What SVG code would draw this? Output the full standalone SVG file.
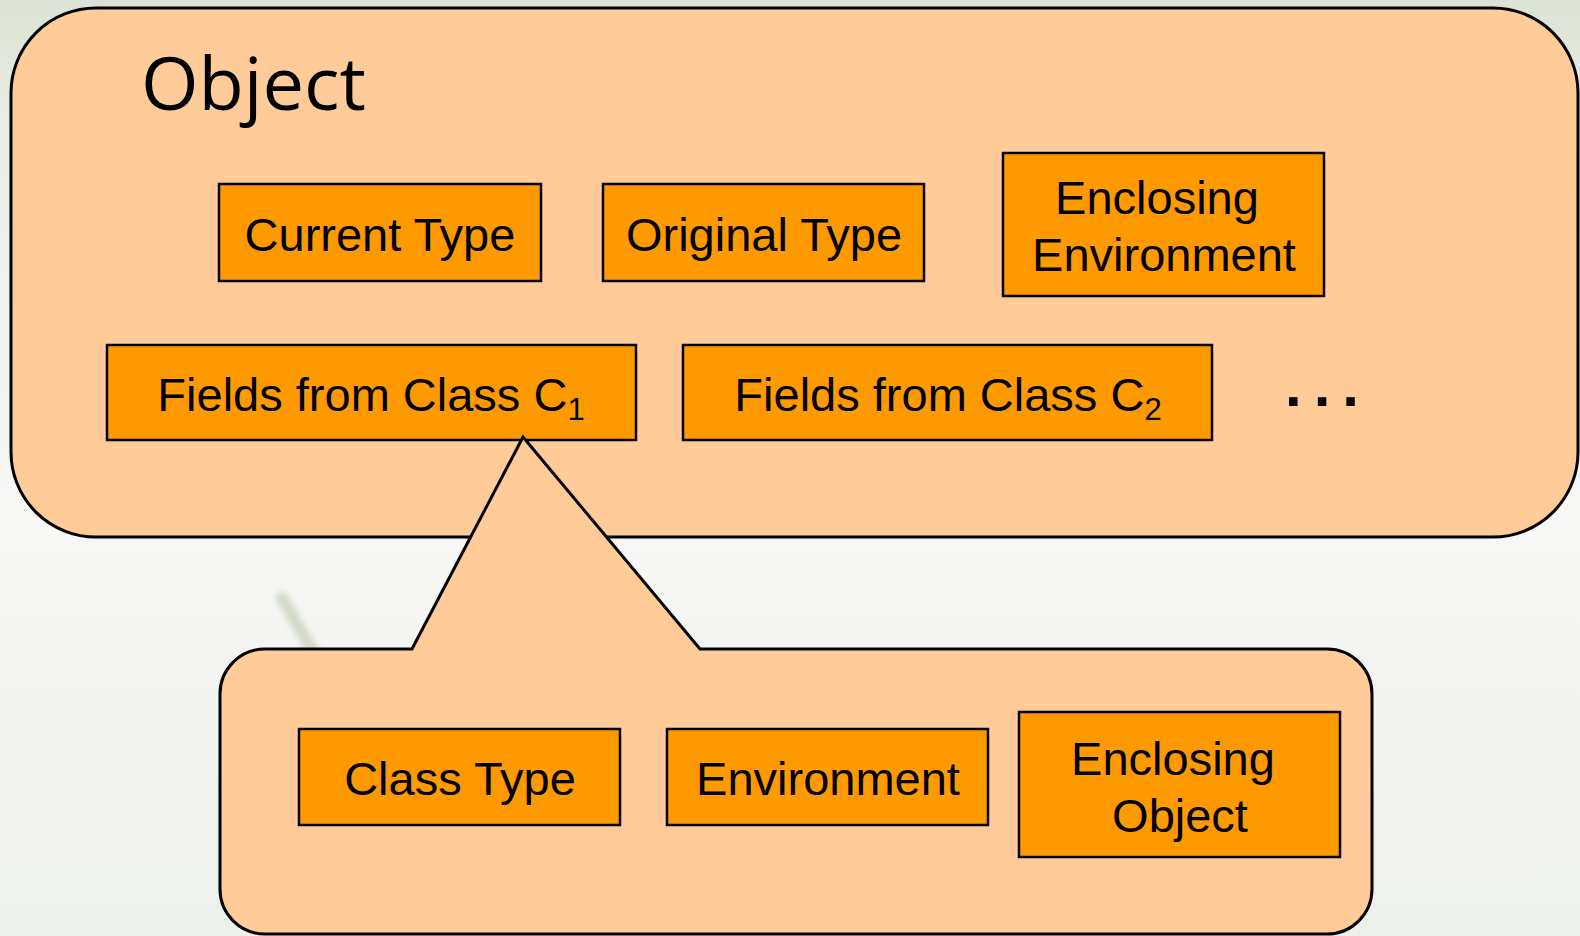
<svg xmlns="http://www.w3.org/2000/svg" width="1580" height="936" viewBox="0 0 1580 936">
  <defs>
    <linearGradient id="bg" x1="0" y1="0" x2="0" y2="1">
      <stop offset="0" stop-color="#DCE2D5"/>
      <stop offset="0.12" stop-color="#E8ECE4"/>
      <stop offset="0.55" stop-color="#F8F8F7"/>
      <stop offset="0.75" stop-color="#F3F4F1"/>
      <stop offset="1" stop-color="#EEF0EB"/>
    </linearGradient>
    <filter id="soft" x="-50%" y="-50%" width="200%" height="200%">
      <feGaussianBlur stdDeviation="3"/>
    </filter>
    <style>
      .panel { fill: #FFCC99; stroke: #000; stroke-width: 3; stroke-linejoin: miter; }
      .box { fill: #FF9900; stroke: #000; stroke-width: 2.5; }
      .lbl { font-family: "Liberation Sans", Arial, sans-serif; font-size: 47px; fill: #000; text-anchor: middle; }
      .sub { font-size: 31px; }
      .title { font-family: "Open Sans", "Noto Sans", sans-serif; font-size: 74px; fill: #000; }
      .dots { font-family: "Liberation Sans", Arial, sans-serif; font-size: 60px; font-weight: bold; letter-spacing: 12px; fill: #000; }
    </style>
  </defs>

  <!-- backdrop -->
  <rect x="0" y="0" width="1580" height="936" fill="url(#bg)"/>
  <line x1="282" y1="598" x2="320" y2="664" stroke="#D2D9C7" stroke-width="12" stroke-linecap="round" filter="url(#soft)"/>

  <!-- object panel -->
  <g id="object">
    <rect class="panel" x="11" y="8" width="1567" height="529" rx="85" ry="85"/>
    <text class="title" x="141" y="110">Object</text>
  </g>

  <g id="current-type">
    <rect class="box" x="219" y="184" width="322" height="97"/>
    <text class="lbl" x="380" y="251">Current Type</text>
  </g>

  <g id="original-type">
    <rect class="box" x="603" y="184" width="321" height="97"/>
    <text class="lbl" x="764" y="251">Original Type</text>
  </g>

  <g id="enclosing-environment">
    <rect class="box" x="1003" y="153" width="321" height="143"/>
    <text class="lbl" x="1157" y="214">Enclosing</text>
    <text class="lbl" x="1164" y="271">Environment</text>
  </g>

  <g id="fields-c1">
    <rect class="box" x="107" y="345" width="529" height="95"/>
    <text class="lbl" x="371" y="411">Fields from Class C<tspan class="sub" dy="9">1</tspan></text>
  </g>

  <g id="fields-c2">
    <rect class="box" x="683" y="345" width="529" height="95"/>
    <text class="lbl" x="948" y="411">Fields from Class C<tspan class="sub" dy="9">2</tspan></text>
  </g>

  <g id="more">
    <text class="dots" x="1285" y="406">...</text>
  </g>

  <!-- callout expanding the fields of class C1 -->
  <g id="connectors">
    <path class="panel" d="M 265 649 L 412 649 L 523 437 L 700 649 L 1327 649 A 45 45 0 0 1 1372 694 L 1372 889 A 45 45 0 0 1 1327 934 L 265 934 A 45 45 0 0 1 220 889 L 220 694 A 45 45 0 0 1 265 649 Z"/>
  </g>

  <g id="class-type">
    <rect class="box" x="299" y="729" width="321" height="96"/>
    <text class="lbl" x="460" y="795">Class Type</text>
  </g>

  <g id="environment">
    <rect class="box" x="667" y="729" width="321" height="96"/>
    <text class="lbl" x="828" y="795">Environment</text>
  </g>

  <g id="enclosing-object">
    <rect class="box" x="1019" y="712" width="321" height="145"/>
    <text class="lbl" x="1173" y="775">Enclosing</text>
    <text class="lbl" x="1180" y="832">Object</text>
  </g>
</svg>
